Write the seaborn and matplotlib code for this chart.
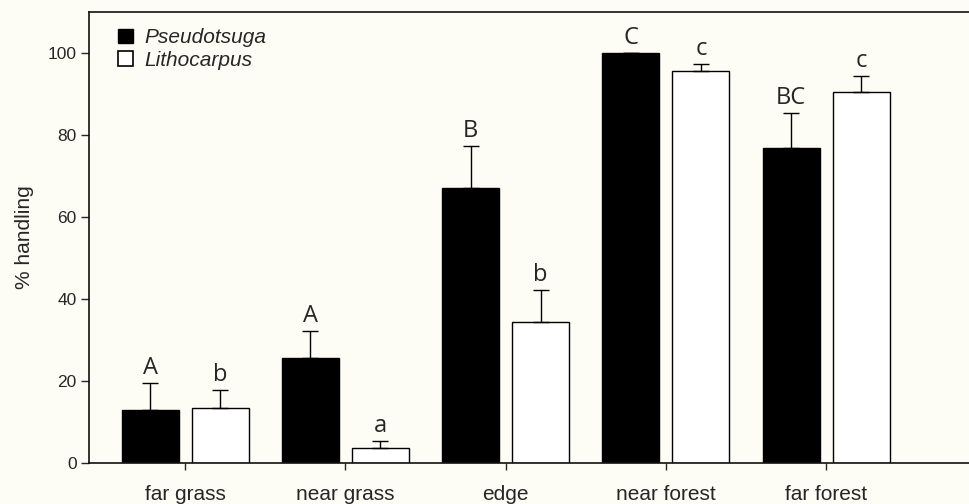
import pandas as pd
import matplotlib.pyplot as plt
import seaborn as sns
from matplotlib.patches import Patch

# Data
sites = ["far grass", "near grass", "edge", "near forest", "far forest"]
species = ["Pseudotsuga", "Lithocarpus"]
pseudotsuga = [13.0, 25.6, 67.0, 100.0, 76.8]
pseudotsuga_up = [19.6, 32.3, 77.3, 100.0, 85.3]
lithocarpus = [13.4, 3.6, 34.5, 95.6, 90.5]
lithocarpus_up = [17.8, 5.4, 42.3, 97.3, 94.4]
letters_p = ["A", "A", "B", "C", "BC"]
letters_l = ["b", "a", "b", "c", "c"]

df = pd.DataFrame({
    "site": sites * 2,
    "species": [species[0]] * 5 + [species[1]] * 5,
    "pct": pseudotsuga + lithocarpus,
})

sns.set_style("ticks")
plt.rcParams["font.family"] = ["Liberation Sans", "DejaVu Sans"]
bg = "#fdfdf6"

fig = plt.figure(figsize=(9.69, 5.04), dpi=100, facecolor=bg)
ax = fig.add_axes([89 / 969, 41 / 504, 880 / 969, 451 / 504], facecolor=bg)

sns.barplot(data=df, x="site", y="pct", hue="species", order=sites,
            hue_order=species, palette=["black", "white"], edgecolor="black",
            linewidth=1, width=0.874, gap=0.185, legend=False, ax=ax)

# upper error bars + significance letters
bar_groups = list(ax.containers)[:2]
tops = [pseudotsuga_up, lithocarpus_up]
letters = [letters_p, letters_l]
for k, cont in enumerate(bar_groups):
    xs = [b.get_x() + b.get_width() / 2 for b in cont]
    ys = [b.get_height() for b in cont]
    errs = [u - v for u, v in zip(tops[k], ys)]
    ax.errorbar(xs, ys, yerr=[[0] * len(ys), errs], fmt="none", ecolor="black",
                elinewidth=1, capsize=5.5, capthick=1, zorder=3)
    for x, top, lab in zip(xs, tops[k], letters[k]):
        ax.annotate(lab, (x, top), xytext=(0, 2), textcoords="offset points",
                    ha="center", va="bottom", fontsize=17,
                    family=["Open Sans", "DejaVu Sans"])

ax.set_xlim(-0.601, 4.892)
ax.set_ylim(0, 110)
ax.set_yticks([0, 20, 40, 60, 80, 100])
ax.set_xlabel("")
ax.set_ylabel("% handling", fontsize=15, labelpad=10)
ax.tick_params(axis="y", labelsize=12.5, length=5.5, width=1, direction="out")
ax.tick_params(axis="x", labelsize=15, length=5, width=1, pad=11)

for s in ["left", "bottom", "top"]:
    ax.spines[s].set_visible(True)
    ax.spines[s].set_linewidth(1.2)
    ax.spines[s].set_color("#111111")
ax.spines["right"].set_visible(False)

handles = [Patch(facecolor="black", edgecolor="black"),
           Patch(facecolor="white", edgecolor="black", linewidth=1.2)]
ax.legend(handles, species, loc="upper left", bbox_to_anchor=(0.024, 0.982),
          borderaxespad=0, frameon=False, handlelength=0.7, handleheight=0.7,
          handletextpad=0.55, labelspacing=0.15,
          prop={"size": 15, "style": "italic"})

plt.savefig("out.png", dpi=100, facecolor=bg)
